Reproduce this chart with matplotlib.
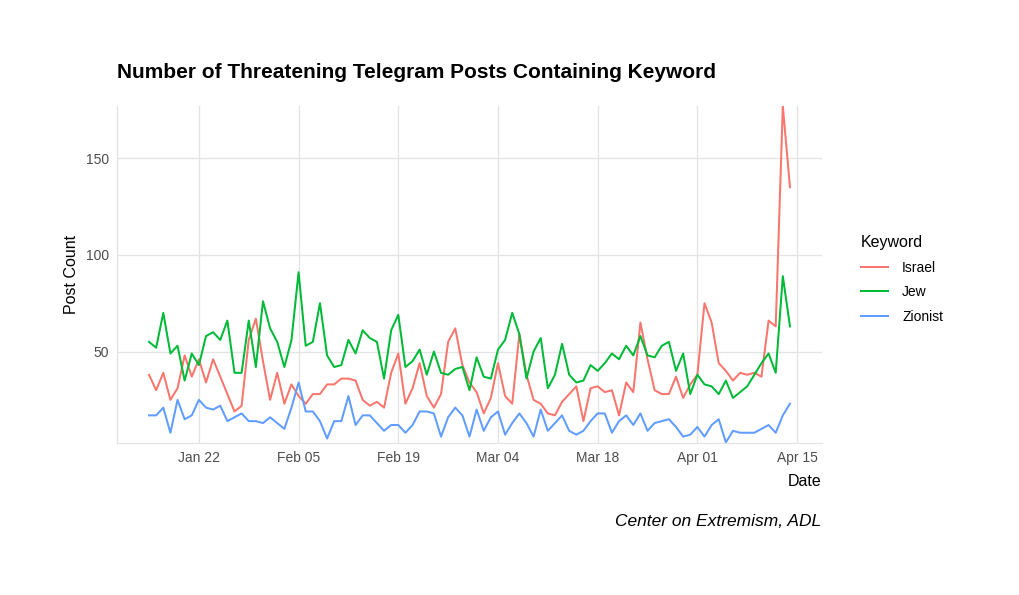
import matplotlib
matplotlib.use("Agg")
import matplotlib.pyplot as plt
import matplotlib.dates as mdates
import numpy as np
import pandas as pd

start_date = "2024-01-15"
n_days = 91
keywords = ["Israel", "Jew", "Zionist"]
colors = ["#F8766D", "#00BA38", "#619CFF"]

israel = [38, 30, 39, 25, 31, 48, 37, 46, 34, 46, 37, 28, 19, 22, 56, 67, 45, 25, 39, 23,
          33, 27, 23, 28, 28, 33, 33, 36, 36, 35, 25, 22, 24, 21, 39, 49, 23, 31, 44, 27,
          21, 28, 55, 62, 43, 34, 29, 18, 26, 44, 27, 23, 59, 38, 25, 23, 18, 17, 24, 28,
          32, 14, 31, 32, 29, 30, 17, 34, 29, 65, 46, 30, 28, 28, 37, 26, 33, 38, 75, 65,
          44, 40, 35, 39, 38, 39, 37, 66, 63, 177, 135]
jew = [55, 52, 70, 49, 53, 35, 49, 43, 58, 60, 56, 66, 39, 39, 66, 42, 76, 62, 55, 42,
       56, 91, 53, 55, 75, 48, 42, 43, 56, 49, 61, 57, 55, 36, 61, 69, 42, 45, 51, 38,
       50, 39, 38, 41, 42, 30, 47, 37, 36, 51, 56, 70, 59, 36, 50, 57, 31, 38, 54, 38,
       34, 35, 43, 40, 44, 49, 46, 53, 48, 58, 48, 47, 53, 55, 40, 49, 28, 38, 33, 32,
       28, 35, 26, 29, 32, 38, 44, 49, 39, 89, 63]
zionist = [17, 17, 21, 8, 25, 15, 17, 25, 21, 20, 22, 14, 16, 18, 14, 14, 13, 16, 13, 10,
           21, 34, 19, 19, 14, 5, 14, 14, 27, 12, 17, 17, 13, 9, 12, 12, 8, 12, 19, 19,
           18, 6, 16, 21, 17, 6, 20, 9, 16, 19, 7, 13, 18, 13, 6, 20, 9, 13, 17, 9,
           7, 9, 14, 18, 18, 8, 14, 17, 12, 18, 9, 13, 14, 15, 11, 6, 7, 11, 6, 12,
           15, 3, 9, 8, 8, 8, 10, 12, 8, 17, 23]
y_ticks = [50, 100, 150]
x_tick_dates = ["2024-01-22", "2024-02-05", "2024-02-19", "2024-03-04",
                "2024-03-18", "2024-04-01", "2024-04-15"]

dates = pd.date_range(start_date, periods=n_days)
series = [israel, jew, zionist]

plt.rcParams['font.family'] = ['Liberation Sans', 'DejaVu Sans']

fig = plt.figure(figsize=(10.2, 5.95), dpi=100)
ax = fig.add_axes([117/1020, 1 - 443/595, (822-117)/1020, (443-106)/595])

for name, vals, c in zip(keywords, series, colors):
    ax.plot(dates, vals, color=c, lw=1.45, label=name, solid_joinstyle='round')

grid_c = "#E3E3E3"
xnum = mdates.date2num(dates)
span = xnum[-1] - xnum[0]
ax.set_xlim(xnum[0] - 0.05*span, xnum[-1] + 0.05*span)
allv = israel + jew + zionist
ax.set_ylim(min(allv) - 0.3, max(allv))

ax.set_yticks(y_ticks)
ax.set_xticks(pd.to_datetime(x_tick_dates))
ax.xaxis.set_major_formatter(mdates.DateFormatter("%b %d"))
ax.grid(True, color=grid_c, lw=0.9)
ax.set_axisbelow(True)
for s in ["top", "right"]:
    ax.spines[s].set_visible(False)
for s in ["left", "bottom"]:
    ax.spines[s].set_color(grid_c)
    ax.spines[s].set_linewidth(0.9)
ax.tick_params(length=0, labelsize=10, labelcolor="#4D4D4D", pad=6)

ax.set_ylabel("Post Count", fontsize=11.5, color="black", labelpad=5)
ax.set_xlabel("Date", fontsize=11.5, color="black", labelpad=4)
ax.xaxis.set_label_coords(1.0, -0.093)
ax.xaxis.label.set_horizontalalignment('right')

fig.text(117/1020, 1 - 73/595, "Number of Threatening Telegram Posts Containing Keyword",
         fontsize=15, fontweight='bold', ha='left', va='center',
         family=['Liberation Sans Narrow', 'Liberation Sans', 'DejaVu Sans'])

fig.text(821/1020, 1 - 521/595, "Center on Extremism, ADL", fontsize=12.5,
         style='italic', ha='right', va='center')

leg = ax.legend(title="Keyword", loc='upper left', bbox_to_anchor=(848/1020, 1 - 223/595),
                bbox_transform=fig.transFigure, frameon=False, fontsize=10,
                title_fontsize=11.5, handlelength=2.0, handletextpad=1.0,
                labelspacing=0.75)
leg._legend_box.align = "left"

fig.savefig("out.png", dpi=100, facecolor="white")
